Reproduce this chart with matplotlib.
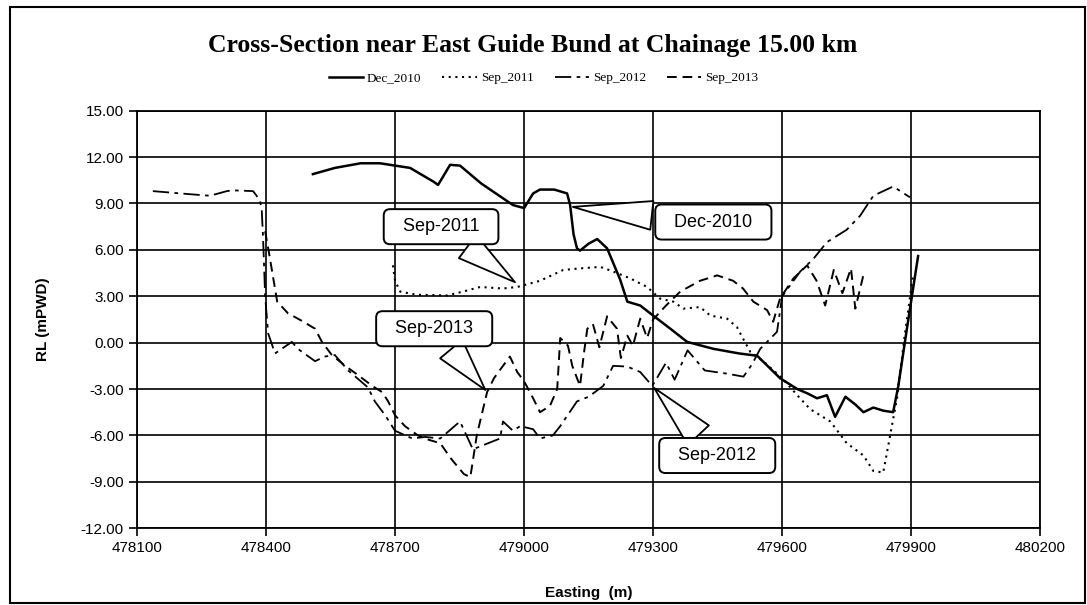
import numpy as np
import matplotlib
matplotlib.use("Agg")
import matplotlib.pyplot as plt
from matplotlib.patches import Rectangle

# surveyed bed levels along the cross-section (Easting m, RL mPWD)
dec2010_x = [478509, 478560, 478620, 478665, 478735, 478790, 478800, 478828, 478851, 478900,
             478974, 479000, 479021, 479037, 479070, 479100, 479107, 479115, 479123, 479130,
             479150, 479170, 479193, 479223, 479240, 479270, 479300, 479340, 479379, 479440,
             479500, 479542, 479595, 479635, 479660, 479681, 479704, 479723, 479747, 479770,
             479789, 479812, 479835, 479858, 479870, 479890, 479916]
dec2010_y = [10.9, 11.3, 11.6, 11.6, 11.3, 10.4, 10.2, 11.5, 11.45, 10.3,
             8.9, 8.7, 9.65, 9.9, 9.9, 9.65, 8.9, 7.0, 6.1, 5.95,
             6.4, 6.7, 6.1, 4.1, 2.65, 2.4, 1.75, 0.9, 0.05, -0.4,
             -0.7, -0.85, -2.3, -3.0, -3.3, -3.6, -3.4, -4.8, -3.5, -4.0,
             -4.5, -4.2, -4.4, -4.5, -2.8, 0.9, 5.6]

sep2011_x = [478695, 478700, 478712, 478750, 478821, 478858, 478898, 478950, 478984, 479037,
             479091, 479130, 479177, 479207, 479247, 479286, 479316, 479347, 479370, 479409,
             479433, 479472, 479495, 479509, 479526, 479560, 479600, 479635, 479665, 479712,
             479750, 479789, 479812, 479835, 479851, 479867, 479885, 479905]
sep2011_y = [5.0, 4.0, 3.3, 3.1, 3.05, 3.3, 3.6, 3.5, 3.6, 4.0,
             4.7, 4.8, 4.9, 4.6, 4.15, 3.6, 2.85, 2.65, 2.2, 2.3,
             1.75, 1.55, 1.0, 0.26, -0.6, -1.3, -2.3, -3.4, -4.3, -5.1,
             -6.5, -7.3, -8.3, -8.4, -6.0, -3.6, 0.5, 4.5]

sep2012_x = [478137, 478180, 478223, 478270, 478309, 478323, 478370, 478386, 478390, 478393,
             478398, 478405, 478421, 478460, 478474, 478514, 478537, 478560, 478591, 478637,
             478653, 478677, 478700, 478740, 478770, 478805, 478851, 478881, 478944, 478951,
             478974, 478991, 479021, 479037, 479067, 479084, 479123, 479150, 479184, 479207,
             479240, 479270, 479298, 479330, 479350, 479380, 479420, 479470, 479510, 479530,
             479549, 479588, 479600, 479642, 479672, 479704, 479750, 479781, 479812, 479858,
             479897]
sep2012_y = [9.8, 9.7, 9.6, 9.5, 9.8, 9.85, 9.8, 9.2, 8.6, 6.9,
             3.0, 0.6, -0.7, 0.05, -0.4, -1.2, -0.9, -0.8, -1.8, -2.9,
             -3.8, -4.7, -5.7, -6.2, -6.1, -6.2, -5.1, -6.9, -6.2, -5.1,
             -5.7, -5.4, -5.6, -6.2, -6.0, -5.4, -3.8, -3.5, -2.8, -1.5,
             -1.55, -1.9, -2.8, -1.3, -2.4, -0.5, -1.8, -2.0, -2.2, -1.4,
             -0.4, 0.7, 3.0, 4.6, 5.4, 6.5, 7.3, 8.2, 9.5, 10.1,
             9.4]

sep2013_x = [478398, 478407, 478426, 478451, 478484, 478514, 478530, 478553, 478584, 478614,
             478647, 478670, 478684, 478700, 478723, 478753, 478780, 478805, 478830, 478860,
             478875, 478890, 478914, 478930, 478951, 478967, 478984, 479000, 479021, 479037,
             479060, 479077, 479084, 479102, 479112, 479130, 479140, 479147, 479160, 479175,
             479193, 479216, 479225, 479240, 479253, 479270, 479286, 479300, 479330, 479363,
             479409, 479449, 479486, 479509, 479533, 479565, 479579, 479595, 479626, 479658,
             479680, 479700, 479720, 479740, 479760, 479770, 479790]
sep2013_y = [7.2, 5.8, 2.65, 1.9, 1.4, 0.9, 0.05, -0.8, -1.5, -2.1,
             -2.8, -3.2, -3.8, -4.7, -5.4, -6.0, -6.3, -6.5, -7.5, -8.5,
             -8.7, -6.0, -3.2, -2.3, -1.5, -0.9, -1.9, -2.5, -3.6, -4.5,
             -4.1, -3.0, 0.3, -0.2, -1.5, -2.8, -0.5, 0.9, 1.2, -0.3,
             1.7, 0.9, -1.0, 0.45, -0.2, 1.55, 0.3, 1.5, 2.4, 3.3,
             4.0, 4.35, 4.0, 3.5, 2.65, 2.1, 1.35, 2.85, 4.15, 5.0,
             4.0, 2.4, 4.7, 3.2, 4.8, 2.2, 4.5]

x_ticks = [478100, 478400, 478700, 479000, 479300, 479600, 479900, 480200]
y_ticks = [15, 12, 9, 6, 3, 0, -3, -6, -9, -12]

fig = plt.figure(figsize=(10.87, 6.05), dpi=100)
ax = fig.add_axes([0.126, 0.127, 0.831, 0.69])

ax.plot(dec2010_x, dec2010_y, color="black", lw=1.8, ls="-", label="Dec_2010")
ax.plot(sep2011_x, sep2011_y, color="black", lw=1.5, ls=(0, (1, 2.2)), label="Sep_2011")
ax.plot(sep2012_x, sep2012_y, color="black", lw=1.3, ls=(0, (9, 3, 2, 3)), label="Sep_2012")
ax.plot(sep2013_x, sep2013_y, color="black", lw=1.4, ls=(0, (5, 3)), label="Sep_2013")

ax.set_xlim(478100, 480200)
ax.set_ylim(-12, 15)
ax.set_xticks(x_ticks)
ax.set_yticks(y_ticks)
ax.set_xticklabels([str(v) for v in x_ticks], fontsize=11, family="Liberation Sans")
ax.set_yticklabels(["%.2f" % v for v in y_ticks], fontsize=11, family="Liberation Sans")
ax.tick_params(direction="out", length=6, width=1.2, colors="black")
ax.grid(True, color="black", lw=1.2)
ax.set_axisbelow(True)
for s in ax.spines.values():
    s.set_linewidth(1.3)

ax.set_xlabel("Easting  (m)", fontsize=11, fontweight="bold", family="Liberation Sans", labelpad=22)
ax.set_ylabel("RL (mPWD)", fontsize=11, fontweight="bold", family="Liberation Sans", labelpad=22)

fig.text(0.49, 0.925, "Cross-Section near East Guide Bund at Chainage 15.00 km",
         ha="center", va="center", fontsize=18.5, fontweight="bold", family="Liberation Serif")
fig.legend(loc="center", bbox_to_anchor=(0.5, 0.871), ncol=4, frameon=False,
           prop={"family": "Liberation Serif", "size": 9.5}, handlelength=2.6,
           columnspacing=1.6, handletextpad=0.3)

# callout labels
box = dict(boxstyle="round,pad=0.5,rounding_size=0.35", fc="white", ec="black", lw=1.4)
arrow = dict(arrowstyle="wedge,tail_width=1.6,shrink_factor=0.5", fc="white", ec="black", lw=1.3)
callouts = [("Dec-2010", (479107, 8.8), (479440, 7.8)),
            ("Sep-2011", (478984, 3.8), (478807, 7.5)),
            ("Sep-2013", (478914, -3.2), (478791, 0.9)),
            ("Sep-2012", (479298, -2.8), (479449, -7.3))]
for txt, tip, pos in callouts:
    ax.annotate("  " + txt + "  ", xy=tip, xytext=pos, ha="center", va="center", fontsize=13,
                family="Liberation Sans", bbox=box, arrowprops=arrow)

fig.patches.append(Rectangle((0.009, 0.004), 0.989, 0.985, transform=fig.transFigure,
                             fill=False, ec="black", lw=1.5))

fig.savefig("out.png", dpi=100)
